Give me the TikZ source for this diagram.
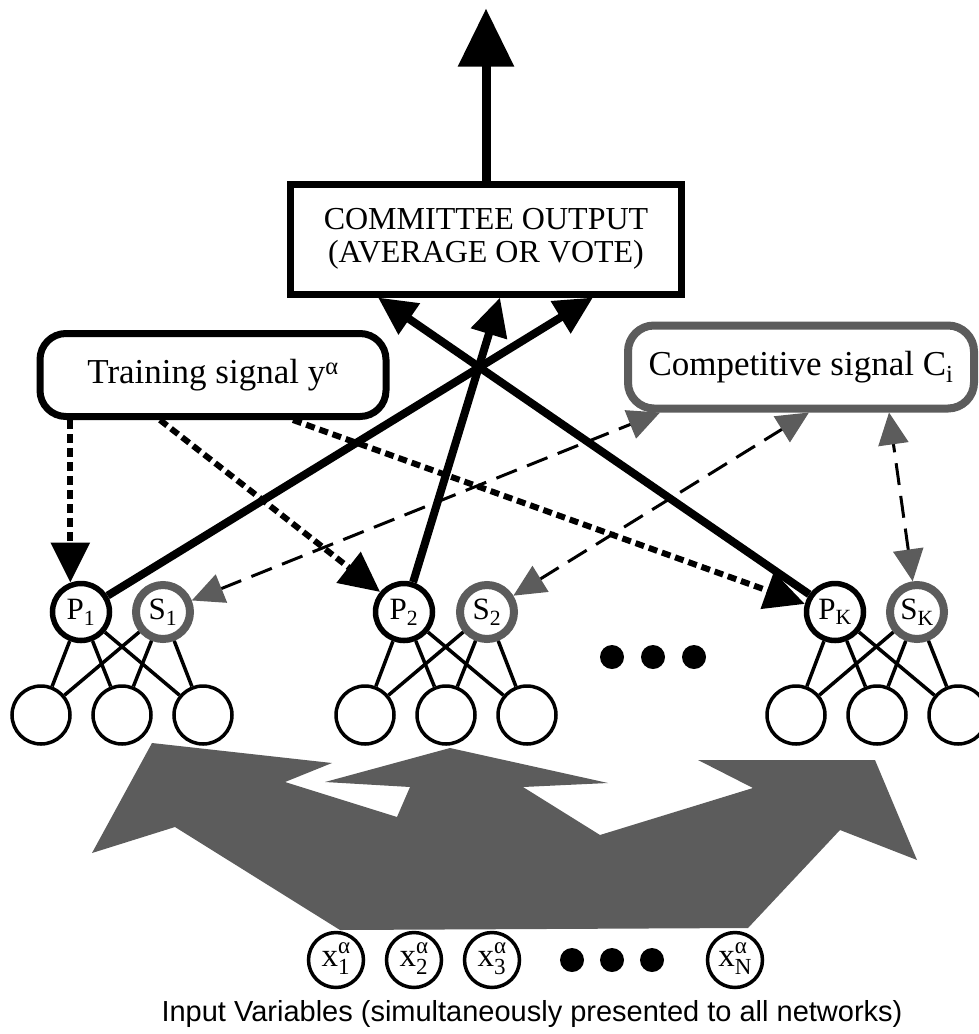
\documentclass[tikz,border=0pt]{standalone}
\usepackage{amsmath}
\usepackage{fontspec}
\setmainfont{Liberation Serif}
\newfontfamily\capfont{Liberation Sans}
\usetikzlibrary{
    arrows.meta,
    calc,
    positioning
}
\definecolor{halftone}{gray}{0.36}
\newcommand{\invar}[1]{x{\fontsize{23}{19}\selectfont\begin{tabular}[c]{@{}l@{}}α\\#1\end{tabular}}}
\tikzset{hid/.style={inner sep=0pt, circle, minimum size=58pt, draw=black, line width=3.5pt, fill=white}}
\tikzset{pun/.style={inner sep=0pt, circle, minimum size=57pt, draw=black, line width=5.5pt, fill=white, font=\fontsize{31}{31}\selectfont}}
\tikzset{sun/.style={inner sep=0pt, circle, minimum size=54pt, draw=halftone, line width=8pt, fill=white, font=\fontsize{31}{31}\selectfont}}
\tikzset{xin/.style={inner sep=0pt, circle, minimum size=55pt, draw=black, line width=3.5pt, fill=white, font=\fontsize{33}{33}\selectfont}}
\tikzset{bigdot/.style={inner sep=0pt, circle, minimum size=24pt, fill=black}}
\tikzset{sigbox/.style={rounded corners=26pt, minimum width=346pt, minimum height=83pt, fill=white, font=\fontsize{35}{35}\selectfont}}
\tikzset{link/.style={line width=3.5pt}}
\tikzset{vote/.style={line width=8pt, -{Triangle[length=38pt,width=36pt]}}}
\tikzset{teach/.style={line width=6pt, dash pattern=on 9pt off 5pt, -{Triangle[length=40pt,width=38pt]}}}
\tikzset{compete/.style={line width=3pt, dash pattern=on 22pt off 11pt, {Triangle[length=32pt,width=30pt,color=halftone]}-{Triangle[length=32pt,width=30pt,color=halftone]}}}

\begin{document}
\begin{tikzpicture}[x=1pt, y=-1pt]
    \useasboundingbox (0, 0) rectangle (979, 1034);

    \fill[halftone] (340, 930) -- (175, 827) -- (92, 853) -- (152, 743) -- (332, 763)
        -- (285, 782) -- (397, 817) -- (410, 787) -- (325, 782) -- (450, 748)
        -- (608, 783) -- (523, 787) -- (600, 835) -- (753, 788) -- (698, 760)
        -- (875, 760) -- (917, 860) -- (840, 830) -- (748, 928) -- cycle;

    \node[draw, line width=7pt, fill=white, minimum width=391pt, minimum height=110pt,
        align=center, font=\fontsize{32}{33}\selectfont] (cmte) at (486, 239)
        {COMMITTEE OUTPUT\\(AVERAGE OR VOTE)};
    \coordinate (out) at ($(cmte.north) + (0, -172)$);

    \node[sigbox, draw=black, line width=7pt] (train) at (213, 375) {Training signal y$^{\text{α}}$};
    \node[sigbox, draw=halftone, line width=8pt] (compet) at (801, 367) {Competitive signal C$_{\text{i}}$};

    \node[pun] (p1) at (81, 612) {P$_{\text{1}}$};
    \node[sun] (s1) at (163, 612) {S$_{\text{1}}$};
    \node[pun] (p2) at (404, 612) {P$_{\text{2}}$};
    \node[sun] (s2) at (487, 612) {S$_{\text{2}}$};
    \node[pun] (pk) at (835, 612) {P$_{\text{K}}$};
    \node[sun] (sk) at (917, 612) {S$_{\text{K}}$};

    \foreach \net/\cx in {1/122, 2/446, k/877} {
        \foreach \i/\dx in {1/-81, 2/0, 3/81} {
            \node[hid] (h\net\i) at (\cx + \dx, 715) {};
            \draw[link] (p\net) -- (h\net\i) (s\net) -- (h\net\i);
        }
    }

    \node[bigdot] (d1) at (612, 657) {};
    \node[bigdot] (d2) at (653, 657) {};
    \node[bigdot] (d3) at (694, 657) {};

    \node[xin] (x1) at (336, 960) {\invar{1}};
    \node[xin] (x2) at (414, 960) {\invar{2}};
    \node[xin] (x3) at (492, 960) {\invar{3}};
    \node[bigdot] (e1) at (572, 960) {};
    \node[bigdot] (e2) at (612, 960) {};
    \node[bigdot] (e3) at (652, 960) {};
    \node[xin] (xn) at (735, 960) {\invar{N}};

    \node[font=\capfont\fontsize{29}{29}\selectfont] (cap) at (532, 1014)
        {Input Variables (simultaneously presented to all networks)};

    \draw[compete] (s1) -- ($(compet.south) + (-141, 0)$);
    \draw[compete] (s2) -- ($(compet.south) + (8, 0)$);
    \draw[compete] (sk) -- ($(compet.south) + (88, 0)$);

    \draw[teach] (p1.110 |- train.south) -- (p1.110);
    \draw[teach] ($(train.south) + (-53, 0)$) -- (p2.140);
    \draw[teach] ($(train.south) + (80, 0)$) -- (pk.165);

    \draw[vote] (p1) -- ($(cmte.south) + (107, 0)$);
    \draw[vote] (p2) -- ($(cmte.south) + (14, 0)$);
    \draw[vote] (pk) -- ($(cmte.south) + (-108, 0)$);
    \draw[vote, line width=9pt, -{Triangle[length=58pt,width=54pt]}] (cmte.north) -- (out);
\end{tikzpicture}
\end{document}
